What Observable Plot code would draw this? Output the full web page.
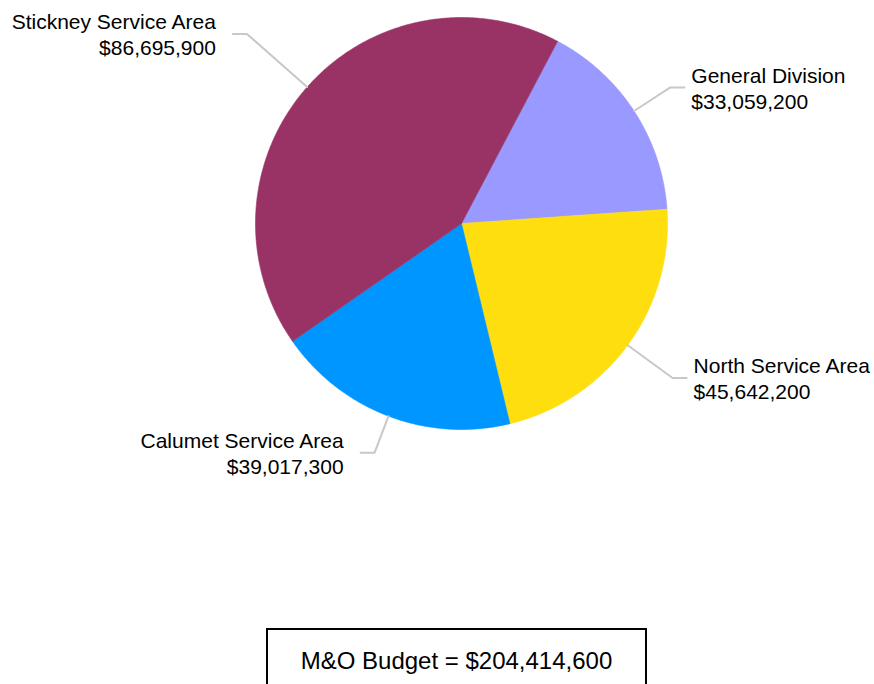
<!DOCTYPE html>
<html>
<head>
<meta charset="utf-8">
<script src="https://cdn.jsdelivr.net/npm/d3@7"></script>
<script src="https://cdn.jsdelivr.net/npm/@observablehq/plot@0.6"></script>
<style>
  html, body { margin: 0; padding: 0; background: #fff; }
  body { font-family: "Liberation Sans", Arial, sans-serif; width: 874px; }
  #chart { position: relative; width: 874px; height: 684px; overflow: hidden; }
  #box {
    position: absolute; left: 266px; top: 628px; width: 377px;
    border: 2px solid #000; padding-top: 19px; height: 60px;
    text-align: center; font-size: 24px; line-height: 24px; color: #000;
    font-family: "Liberation Sans", Arial, sans-serif;
  }
</style>
</head>
<body>
<div id="chart"></div>
<script>
// ---- data ----
const categories = ["General Division", "North Service Area", "Calumet Service Area", "Stickney Service Area"];
const budgets = [33059200, 45642200, 39017300, 86695900];
const sliceColors = ["#9999ff", "#ffde10", "#0096ff", "#993366"];
const totalLabel = "M&O Budget = $204,414,600";

// ---- layout (not data) ----
const startAngleDeg = 27.8;          // clockwise from 12 o'clock
const elbowRadius = [1.21, 1.27, 1.19, 1.39]; // leader elbow, in pie radii
const R = 206, cx = 461, cy = 223;
const hLen = 14 / R;                 // horizontal leader length (radius units)

const total = d3.sum(budgets);
const fmt = d3.format(",");
let acc = startAngleDeg * Math.PI / 180;
const slices = categories.map((name, i) => {
  const a0 = acc, a1 = acc + budgets[i] / total * 2 * Math.PI;
  acc = a1;
  return {name, value: budgets[i], color: sliceColors[i], a0, a1, mid: (a0 + a1) / 2, elbow: elbowRadius[i]};
});

const polar = (r, a) => ({x: r * Math.sin(a), y: r * Math.cos(a)});

const marks = [];
slices.forEach(s => {
  const pts = [{x: 0, y: 0}];
  const n = Math.max(2, Math.ceil((s.a1 - s.a0) / (Math.PI / 360)));
  for (let k = 0; k <= n; k++) pts.push(polar(1, s.a0 + (s.a1 - s.a0) * k / n));
  pts.push({x: 0, y: 0});
  marks.push(Plot.line(pts, {x: "x", y: "y", fill: s.color, stroke: s.color, strokeWidth: 0.6}));
});

const labels = slices.map(s => {
  const p0 = polar(1, s.mid);
  const p1 = polar(s.elbow, s.mid);
  const right = Math.sin(s.mid) >= 0;
  const p2 = {x: p1.x + (right ? hLen : -hLen), y: p1.y};
  return {s, pts: [p0, p1, p2], right, end: p2,
          text: s.name + "\n$" + fmt(s.value)};
});

labels.forEach(l => {
  marks.push(Plot.line(l.pts, {x: "x", y: "y", stroke: "#c8c8c8", strokeWidth: 2}));
});

const textOpts = {x: d => d.end.x, y: d => d.end.y, text: "text",
  fontSize: 21, lineHeight: 1.24, lineAnchor: "middle", fill: "#000"};
marks.push(Plot.text(labels.filter(d => d.right), {...textOpts, textAnchor: "start", dx: 7}));
marks.push(Plot.text(labels.filter(d => !d.right), {...textOpts, textAnchor: "end", dx: -17}));

const svg = Plot.plot({
  width: 874, height: 610, margin: 0,
  x: {domain: [-1, 1], range: [cx - R, cx + R], axis: null},
  y: {domain: [-1, 1], range: [cy + R, cy - R], axis: null},
  style: {fontFamily: "'Liberation Sans', Arial, sans-serif", background: "#fff", overflow: "visible"},
  marks
});
const chart = document.getElementById("chart");
chart.appendChild(svg);
const box = document.createElement("div");
box.id = "box";
box.textContent = totalLabel;
chart.appendChild(box);
</script>
</body>
</html>
